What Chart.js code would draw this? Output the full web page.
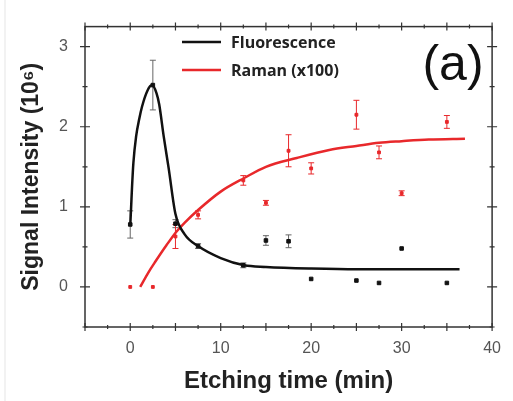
<!DOCTYPE html>
<html>
<head>
<meta charset="utf-8">
<script src="https://cdn.jsdelivr.net/npm/chart.js@4.4.1/dist/chart.umd.min.js"></script>
<style>
  html, body { margin: 0; padding: 0; background: #fff; }
  #wrap { position: relative; width: 513px; height: 401px; }
</style>
</head>
<body>
<div id="wrap"><canvas id="chart"></canvas></div>
<script>
// Ölçüm verileri (dakika)
const etchTime = [0, 2.5, 5, 7.5, 12.5, 15, 17.5, 20, 25, 27.5, 30, 35];
const fluorescence = [0.78, 2.52, 0.79, 0.51, 0.27, 0.58, 0.57, 0.10, 0.08, 0.05, 0.48, 0.05];
const fluorescenceErr = [0.17, 0.31, 0.05, 0.03, 0.03, 0.06, 0.08, 0.02, 0.02, 0.02, 0.02, 0.02];
const raman = [0, 0, 0.63, 0.90, 1.33, 1.05, 1.70, 1.48, 2.15, 1.68, 1.17, 2.06];
const ramanErr = [0.01, 0.01, 0.15, 0.05, 0.06, 0.03, 0.20, 0.07, 0.18, 0.08, 0.03, 0.08];

// Fit eğrileri (resimden okunan noktalar)
const fluorFitTime = [0, 0.1, 0.2, 0.35, 0.65, 1.0, 1.3, 1.9, 2.4, 2.9, 3.2, 3.7, 4.25, 5.0, 6, 7.5, 10, 12.6, 15, 20, 25, 30, 36.4];
const fluorFit = [0.76, 1.0, 1.25, 1.55, 1.88, 2.1, 2.25, 2.45, 2.52, 2.42, 2.28, 1.88, 1.48, 0.91, 0.66, 0.51, 0.36, 0.27, 0.25, 0.23, 0.22, 0.22, 0.22];
const ramanFitTime = [1.1, 2, 2.8, 4, 5.1, 6, 7.5, 10, 12.6, 15, 18.4, 22, 25, 27.5, 30, 33, 37];
const ramanFit = [0, 0.18, 0.32, 0.52, 0.69, 0.80, 0.96, 1.19, 1.36, 1.50, 1.61, 1.71, 1.76, 1.80, 1.82, 1.84, 1.85];

// Eksen işaretleri
const xTickLabels = [0, 10, 20, 30, 40];
const xMajor = [-5, 0, 5, 10, 15, 20, 25, 30, 35, 40];
const xMinor = [-2.5, 2.5, 7.5, 12.5, 17.5, 22.5, 27.5, 32.5, 37.5];
const yTickLabels = [0, 1, 2, 3];
const yMinor = [-0.5, 0.5, 1.5, 2.5];

const legendItems = [
    { label: 'Fluorescence', color: '#111' },
    { label: 'Raman (x100)', color: '#e8282b' }
];

const toXY = (xs, ys) => xs.map((v, i) => ({ x: v, y: ys[i] }));

// Hata çubukları, çerçeve, tikler, lejant
const decorPlugin = {
    id: 'decor',
    beforeDatasetsDraw(chart) {
        const { ctx, scales: { x, y } } = chart;
        const drawErr = (vals, errs, color) => {
            ctx.save();
            ctx.strokeStyle = color;
            ctx.lineWidth = 1;
            etchTime.forEach((t, i) => {
                if (errs[i] < 0.03) return;
                const px = x.getPixelForValue(t);
                const top = y.getPixelForValue(vals[i] + errs[i]);
                const bot = y.getPixelForValue(vals[i] - errs[i]);
                ctx.beginPath();
                ctx.moveTo(px, top); ctx.lineTo(px, bot);
                ctx.moveTo(px - 3, top); ctx.lineTo(px + 3, top);
                ctx.moveTo(px - 3, bot); ctx.lineTo(px + 3, bot);
                ctx.stroke();
            });
            ctx.restore();
        };
        drawErr(fluorescence, fluorescenceErr, '#666');
        drawErr(raman, ramanErr, '#e8282b');
    },
    afterDraw(chart) {
        const { ctx, chartArea: a, scales: { x, y } } = chart;
        ctx.save();
        // dış çerçevenin soluk sol kenarı
        ctx.strokeStyle = '#eee';
        ctx.lineWidth = 1.5;
        ctx.beginPath();
        ctx.moveTo(5, 0); ctx.lineTo(5, 401);
        ctx.stroke();

        ctx.strokeStyle = '#333';
        ctx.lineWidth = 1.5;
        ctx.strokeRect(a.left, a.top, a.right - a.left, a.bottom - a.top);

        ctx.lineWidth = 1.2;
        ctx.beginPath();
        xMajor.forEach(v => {
            const px = x.getPixelForValue(v);
            ctx.moveTo(px, a.bottom - 4); ctx.lineTo(px, a.bottom + 4);
            ctx.moveTo(px, a.top - 4); ctx.lineTo(px, a.top + 4);
        });
        xMinor.forEach(v => {
            const px = x.getPixelForValue(v);
            ctx.moveTo(px, a.bottom - 2); ctx.lineTo(px, a.bottom + 2);
            ctx.moveTo(px, a.top - 2); ctx.lineTo(px, a.top + 2);
        });
        yTickLabels.forEach(v => {
            const py = y.getPixelForValue(v);
            ctx.moveTo(a.left - 5, py); ctx.lineTo(a.left + 5, py);
            ctx.moveTo(a.right - 5, py); ctx.lineTo(a.right + 5, py);
        });
        yMinor.forEach(v => {
            const py = y.getPixelForValue(v);
            ctx.moveTo(a.left - 2.5, py); ctx.lineTo(a.left + 2.5, py);
            ctx.moveTo(a.right - 2.5, py); ctx.lineTo(a.right + 2.5, py);
        });
        ctx.stroke();

        // Lejant
        ctx.font = 'bold 16px "Open Sans"';
        ctx.textBaseline = 'middle';
        legendItems.forEach((item, i) => {
            const ly = 42 + i * 28;
            ctx.strokeStyle = item.color;
            ctx.lineWidth = 2.5;
            ctx.beginPath();
            ctx.moveTo(182, ly); ctx.lineTo(221, ly);
            ctx.stroke();
            ctx.fillStyle = '#222';
            ctx.fillText(item.label, 231, ly + 1);
        });

        // Panel etiketi
        ctx.font = '50px "Liberation Sans"';
        ctx.textAlign = 'center';
        ctx.fillStyle = '#111';
        ctx.fillText('(a)', 453, 66);
        ctx.restore();
    }
};

const ctx = document.getElementById('chart').getContext('2d');
const chart = new Chart(ctx, {
    type: 'scatter',
    data: {
        datasets: [
            {
                label: 'Fluorescence fit',
                data: toXY(fluorFitTime, fluorFit),
                showLine: true,
                borderColor: '#111',
                borderWidth: 2.5,
                pointRadius: 0,
                cubicInterpolationMode: 'monotone'
            },
            {
                label: 'Raman fit',
                data: toXY(ramanFitTime, ramanFit),
                showLine: true,
                borderColor: '#e8282b',
                borderWidth: 2.5,
                pointRadius: 0,
                cubicInterpolationMode: 'monotone'
            },
            {
                label: 'Fluorescence',
                data: toXY(etchTime, fluorescence),
                pointStyle: 'rect',
                pointRadius: 2.5,
                backgroundColor: '#111',
                borderColor: '#111'
            },
            {
                label: 'Raman (x100)',
                data: toXY(etchTime, raman),
                pointStyle: 'rect',
                pointRadius: 2,
                backgroundColor: '#e8282b',
                borderColor: '#e8282b'
            }
        ]
    },
    options: {
        responsive: true,
        maintainAspectRatio: false,
        animation: false,
        layout: { padding: { top: 17, right: 15, left: 0, bottom: 0 } },
        plugins: {
            legend: { display: false },
            tooltip: { enabled: false }
        },
        scales: {
            x: {
                type: 'linear',
                min: -5,
                max: 40,
                grid: { display: false, drawTicks: false },
                border: { display: false },
                afterBuildTicks: s => { s.ticks = xTickLabels.map(v => ({ value: v })); },
                afterFit: s => { s.height = 74; },
                ticks: {
                    color: '#555',
                    font: { family: 'Liberation Sans', size: 16 },
                    padding: 12,
                    maxRotation: 0
                },
                title: {
                    display: true,
                    text: 'Etching time (min)',
                    color: '#222',
                    font: { family: 'Liberation Sans', size: 24, weight: 'bold' },
                    padding: { top: 0, bottom: 5 }
                }
            },
            y: {
                type: 'linear',
                min: -0.5,
                max: 3.25,
                grid: { display: false, drawTicks: false },
                border: { display: false },
                afterBuildTicks: s => { s.ticks = yTickLabels.map(v => ({ value: v })); },
                afterFit: s => { s.width = 85; },
                ticks: {
                    color: '#555',
                    font: { family: 'Liberation Sans', size: 16 },
                    padding: 17
                },
                title: {
                    display: true,
                    text: 'Signal Intensity (10⁶)',
                    color: '#222',
                    font: { family: 'Liberation Sans', size: 23, weight: 'bold' },
                    padding: { top: 18, bottom: 0 }
                }
            }
        }
    },
    plugins: [decorPlugin]
});
</script>
</body>
</html>
